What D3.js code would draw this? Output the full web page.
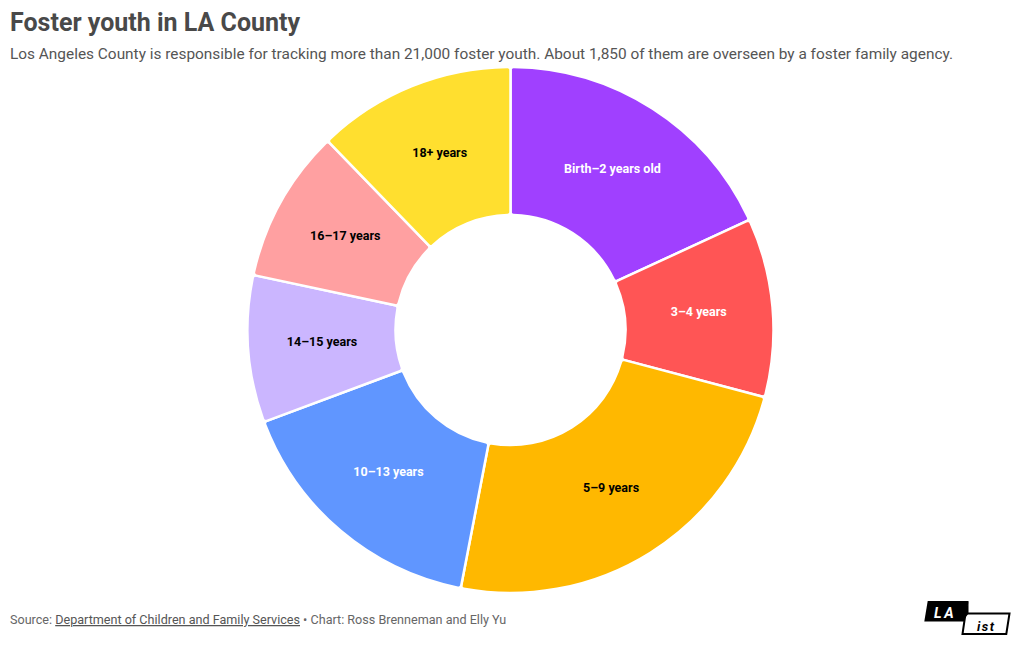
<!DOCTYPE html>
<html>
<head>
<meta charset="utf-8">
<script src="https://cdn.jsdelivr.net/npm/d3@7"></script>
<style>
  html, body { margin: 0; padding: 0; background: #fff; }
  svg { display: block; font-family: Roboto, "Noto Sans", sans-serif; }
</style>
</head>
<body>
<svg id="chart" width="1020" height="650"></svg>
<script>
const categories = ["Birth–2 years old", "3–4 years", "5–9 years", "10–13 years", "14–15 years", "16–17 years", "18+ years"];
const values = [335, 203, 442, 301, 167, 174, 226];
const colors = ["#a040ff", "#ff5555", "#ffb800", "#6096ff", "#cbb6ff", "#ffa0a1", "#ffdf2f"];
const labelColors = ["#ffffff", "#ffffff", "#000000", "#ffffff", "#000000", "#000000", "#000000"];

const title = "Foster youth in LA County";
const subtitle = "Los Angeles County is responsible for tracking more than 21,000 foster youth. About 1,850 of them are overseen by a foster family agency.";

const svg = d3.select("#chart");

svg.append("text")
  .attr("x", 10).attr("y", 31)
  .attr("font-size", 25).attr("font-weight", 700)
  .attr("fill", "#494949")
  .text(title);

svg.append("text")
  .attr("x", 10).attr("y", 59)
  .attr("font-size", 15.4)
  .attr("fill", "#555555")
  .text(subtitle);

const cx = 510.5, cy = 330, outerR = 263, innerR = 115;

const data = categories.map((c, i) => ({ category: c, value: values[i], color: colors[i], labelColor: labelColors[i] }));

const pie = d3.pie().value(d => d.value).sort(null);
const arc = d3.arc().innerRadius(innerR).outerRadius(outerR).cornerRadius(3);
const arcs = pie(data);

const g = svg.append("g").attr("transform", `translate(${cx},${cy})`);

g.selectAll("path.slice").data(arcs).join("path")
  .attr("class", "slice")
  .attr("d", arc)
  .attr("fill", d => d.data.color)
  .attr("stroke", "#ffffff")
  .attr("stroke-width", 2.5)
  .attr("stroke-linejoin", "round");

g.selectAll("text.lbl").data(arcs).join("text")
  .attr("class", "lbl")
  .attr("transform", d => `translate(${arc.centroid(d)})`)
  .attr("text-anchor", "middle")
  .attr("dy", "0.15em")
  .attr("font-size", 12.5)
  .attr("font-weight", 700)
  .attr("fill", d => d.data.labelColor)
  .text(d => d.data.category);

// Footer
const foot = svg.append("text")
  .attr("x", 10).attr("y", 624)
  .attr("font-size", 12.6)
  .attr("fill", "#666666");
foot.append("tspan").text("Source: ");
foot.append("tspan").attr("text-decoration", "underline").attr("fill", "#555555").text("Department of Children and Family Services");
foot.append("tspan").text(" • Chart: Ross Brenneman and Elly Yu");

// LAist logo
const logo = svg.append("g");
logo.append("path")
  .attr("d", "M927.7,601 L968.5,601 L965.5,621.5 L924.3,621.5 Z")
  .attr("fill", "#000");
logo.append("path")
  .attr("d", "M965.5,613.5 L1009.5,613.5 L1006.3,634 L962.5,634 Z")
  .attr("fill", "#fff").attr("stroke", "#000").attr("stroke-width", 2);
logo.append("path")
  .attr("d", "M962.5,621.5 L968.5,601 L968.5,613.5 Z")
  .attr("fill", "#000");
logo.append("text")
  .attr("x", 934).attr("y", 617.5)
  .attr("font-size", 14.5).attr("font-weight", 700).attr("font-style", "italic")
  .attr("letter-spacing", 2.5)
  .attr("fill", "#fff").text("LA");
logo.append("text")
  .attr("x", 977).attr("y", 630.5)
  .attr("font-size", 13).attr("font-weight", 700).attr("font-style", "italic")
  .attr("letter-spacing", 1.5)
  .attr("fill", "#000").text("ist");
</script>
</body>
</html>
